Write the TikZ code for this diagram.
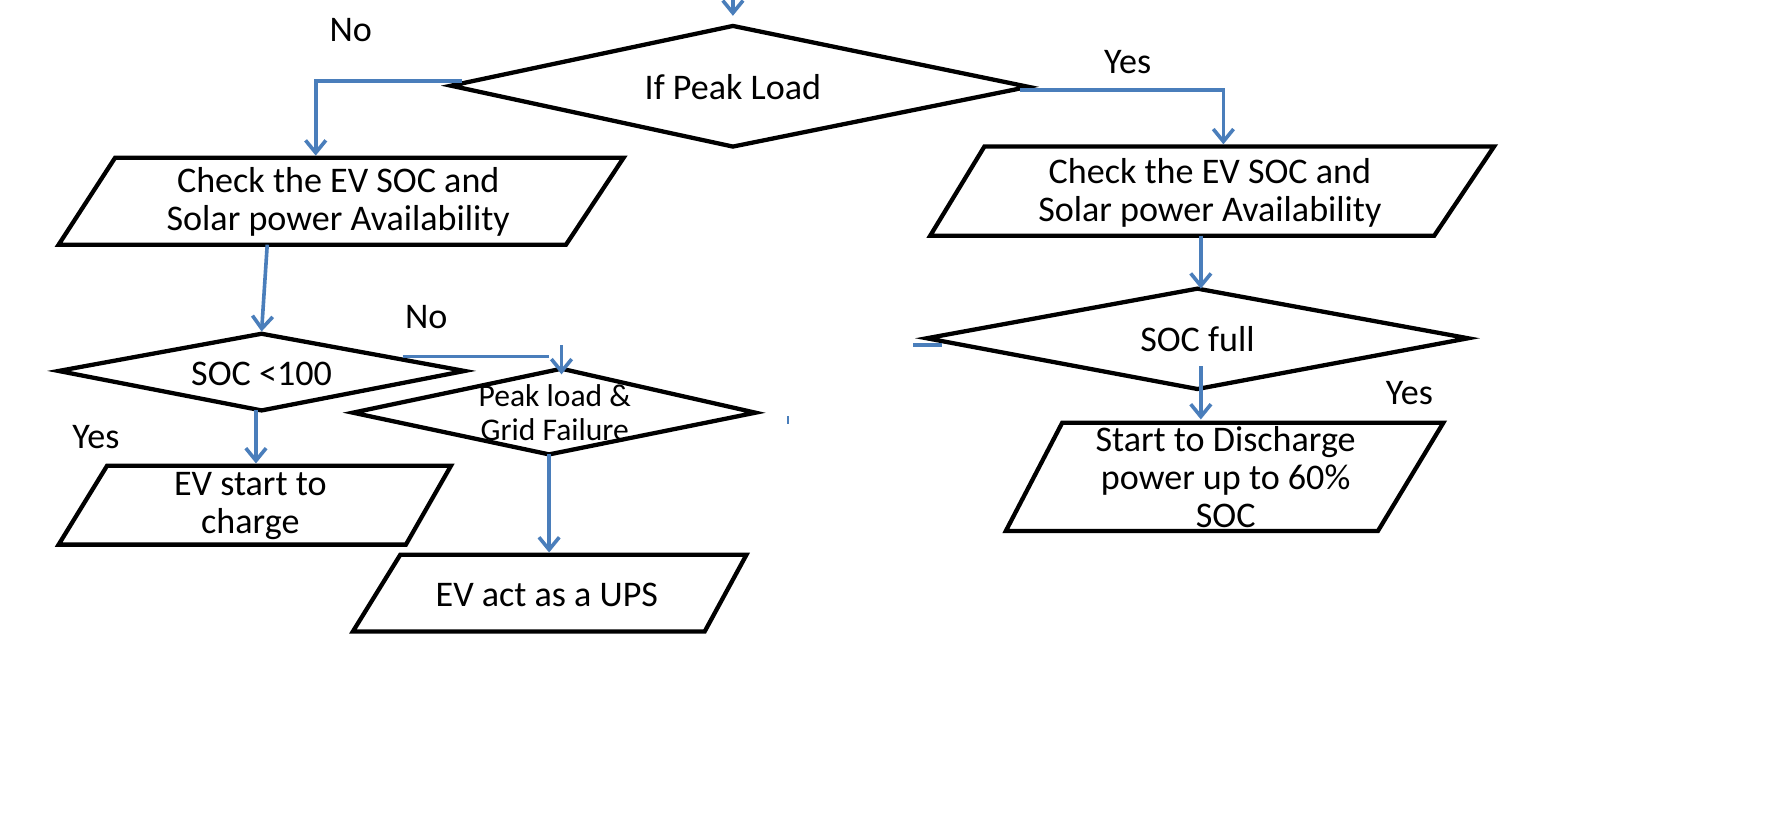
\documentclass[tikz,border=0pt]{standalone}
\usepackage{fontspec}
\setmainfont{Carlito}
\usetikzlibrary{arrows.meta}
\definecolor{arrowblue}{RGB}{74,126,187}
\begin{document}
\begin{tikzpicture}[x=0.5pt,y=-0.5pt,
  shapeline/.style={draw=black,line width=1.9pt,line join=miter},
  conn/.style={draw=arrowblue,line width=1.6pt,-{Straight Barb[length=5.5pt,width=9pt]}},
  plainline/.style={draw=arrowblue,line width=1.6pt},
  txt/.style={inner sep=0pt,align=center,font=\fontsize{16}{17}\selectfont},
  smalltxt/.style={inner sep=0pt,align=center,font=\fontsize{14}{15}\selectfont},
  lbl/.style={inner sep=0pt,font=\fontsize{16}{17}\selectfont}]
\fill[white] (0,0) rectangle (1568,738);
\useasboundingbox (0,0) rectangle (1568,738);

% shapes
\draw[shapeline] (400,76) -- (650,23) -- (912,77) -- (650,130) -- cycle;   % If Peak Load
\draw[shapeline] (102,140) -- (553,140) -- (502,217) -- (52,217) -- cycle; % left check
\draw[shapeline] (873,130) -- (1325,130) -- (1272,209) -- (825,209) -- cycle; % right check
\draw[shapeline] (52,329) -- (232,296) -- (412,329) -- (232,364) -- cycle; % SOC<100
\draw[shapeline] (313,366) -- (498,327) -- (670,366) -- (487,403) -- cycle; % Peak & grid
\draw[shapeline] (822,300) -- (1062,256) -- (1302,300) -- (1062,345) -- cycle; % SOC full
\draw[shapeline] (95,413) -- (400,413) -- (360,483) -- (52,483) -- cycle; % EV start
\draw[shapeline] (355,492) -- (662,492) -- (625,560) -- (313,560) -- cycle; % UPS
\draw[shapeline] (942,375) -- (1280,375) -- (1222,471) -- (892,471) -- cycle; % discharge

% texts
\node[txt] (pk) at (650,77) {If Peak Load};
\node[txt] (chkL) at (300,179) {Check the EV SOC and\\Solar power Availability};
\node[txt] (chkR) at (1073,171) {Check the EV SOC and\\Solar power Availability};
\node[txt] (soc) at (232,332) {SOC <100};
\node[smalltxt] (grid) at (492,366) {Peak load \&\\Grid Failure};
\node[txt] (full) at (1062,301) {SOC full};
\node[txt] (evc) at (222,449) {EV start to\\charge};
\node[txt] (ups) at (485,528) {EV act as a UPS};
\node[txt] (dis) at (1087,423) {Start to Discharge\\power up to 60\%\\SOC};

\node[lbl] (no1) at (311,27) {No};
\node[lbl] (yes1) at (1000,55) {Yes};
\node[lbl] (no2) at (378,281) {No};
\node[lbl] (yes2) at (85,388) {Yes};
\node[lbl] (yes3) at (1250,349) {Yes};

% connector points
\coordinate (in0) at (650,-2);
\coordinate (pkTop) at (650,14);
\coordinate (pkL) at (410,72);
\coordinate (chkLtop) at (280,138);
\coordinate (pkR) at (905,80);
\coordinate (chkRtop) at (1085,128);
\coordinate (chkLbot) at (237,217);
\coordinate (socTop) at (232,294);
\coordinate (socR) at (357,316);
\coordinate (socRend) at (487,316);
\coordinate (gridIn0) at (498,306);
\coordinate (gridTop) at (498,332);
\coordinate (socBot) at (227,364);
\coordinate (evcTop) at (227,411);
\coordinate (gridBot) at (487,403);
\coordinate (upsTop) at (487,490);
\coordinate (chkRbot) at (1065,209);
\coordinate (fullTop) at (1065,256);
\coordinate (fullIn) at (1065,325);
\coordinate (disTop) at (1065,372);
\coordinate (stubA) at (810,306);
\coordinate (stubB) at (835,306);
\coordinate (tickA) at (699,369);
\coordinate (tickB) at (699,376);

% connectors
\draw[conn] (in0) -- (pkTop);
\draw[conn] (pkL) -- (chkLtop |- pkL) -- (chkLtop);
\draw[conn] (pkR) -- (chkRtop |- pkR) -- (chkRtop);
\draw[conn] (chkLbot) -- (socTop);
\draw[plainline] (socR) -- (socRend);
\draw[conn] (gridIn0) -- (gridTop);
\draw[conn] (socBot) -- (evcTop);
\draw[conn] (gridBot) -- (upsTop);
\draw[conn] (chkRbot) -- (fullTop);
\draw[conn] (fullIn) -- (disTop);
\draw[plainline] (stubA) -- (stubB);
\draw[draw=arrowblue,line width=0.8pt] (tickA) -- (tickB);
\end{tikzpicture}
\end{document}
